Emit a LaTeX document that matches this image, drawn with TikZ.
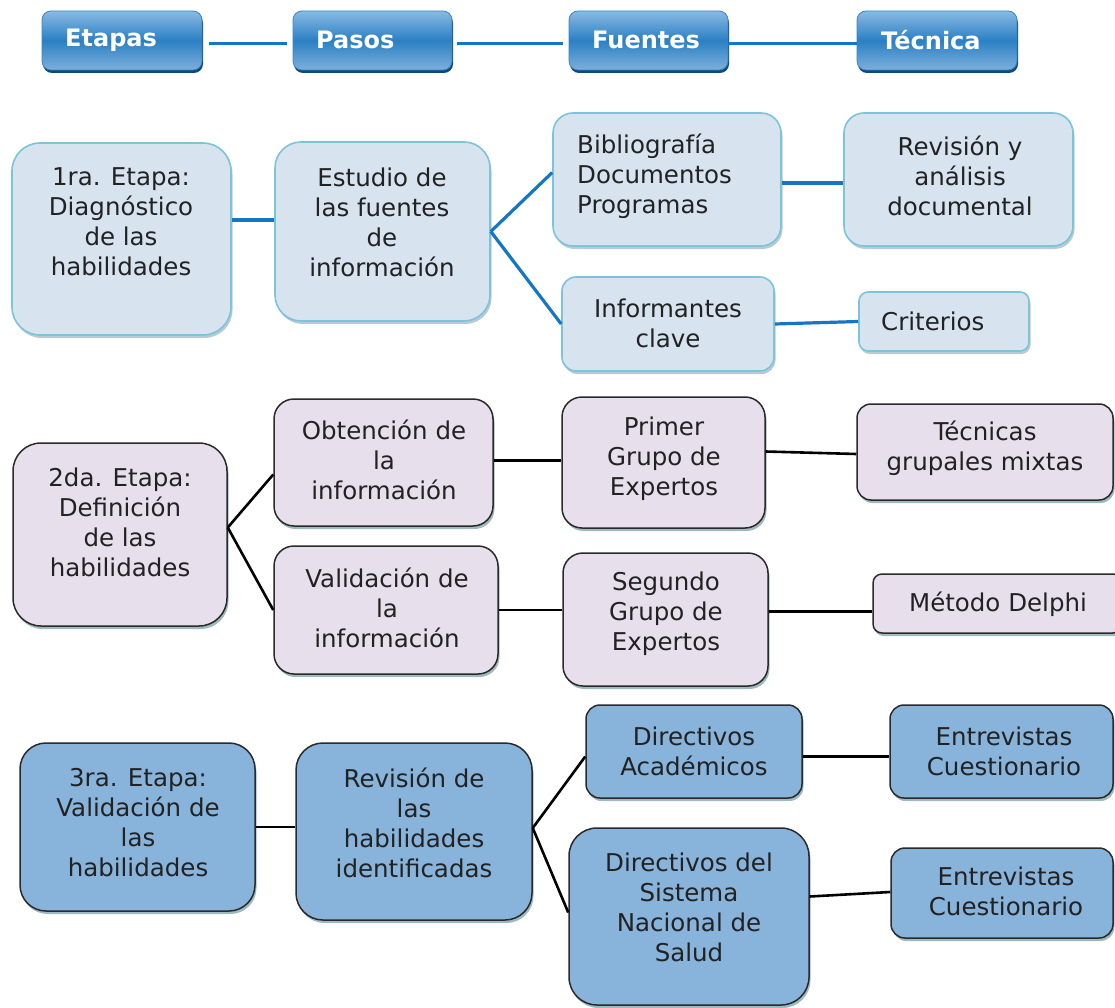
\documentclass[tikz,border=0pt]{standalone}
\usepackage{fontspec}
\setmainfont{DejaVu Sans}
\usetikzlibrary{shadows,calc}
\definecolor{hdrT}{HTML}{8ABAE3}
\definecolor{hdrM}{HTML}{2A80C4}
\definecolor{hdrBot}{HTML}{7EAFDC}
\definecolor{hdrS}{HTML}{0C4A78}
\definecolor{hdrB}{HTML}{3A86C4}
\definecolor{fillA}{HTML}{D7E4F0}
\definecolor{bordA}{HTML}{7CC4DA}
\definecolor{shA}{HTML}{8FA6B4}
\definecolor{fillB}{HTML}{E7E0EC}
\definecolor{fillC}{HTML}{88B3DA}
\definecolor{bordB}{HTML}{2A2A2A}
\definecolor{shB}{HTML}{5F8D93}
\definecolor{lineA}{HTML}{1576C6}
\definecolor{txtc}{HTML}{222222}
\begin{document}
\begin{tikzpicture}[x=1pt,y=-1pt,
  font=\fontsize{24.5}{30}\selectfont,
  hdr/.style={rounded corners=9pt, draw=hdrB, line width=0.8pt, top color=hdrT, bottom color=hdrBot, middle color=hdrM,
    drop shadow={shadow xshift=1pt, shadow yshift=-3pt, fill=hdrS, opacity=1}, inner sep=0pt},
  hdrtxt/.style={text=white, font=\fontsize{24}{30}\selectfont\bfseries, anchor=west, inner sep=0pt},
  bA/.style={draw=bordA, fill=fillA, line width=1.6pt, inner sep=0pt,
    drop shadow={shadow xshift=1.5pt, shadow yshift=-3pt, fill=shA, opacity=0.6}},
  bB/.style={draw=bordB, fill=fillB, line width=1.5pt, inner sep=0pt,
    drop shadow={shadow xshift=1.5pt, shadow yshift=-3pt, fill=shB, opacity=0.6}},
  bC/.style={draw=bordB, fill=fillC, line width=1.5pt, inner sep=0pt,
    drop shadow={shadow xshift=1.5pt, shadow yshift=-3pt, fill=shB, opacity=0.6}},
  txt/.style={align=center, text=txtc, inner sep=0pt},
  txtl/.style={align=left, text=txtc, inner sep=0pt, anchor=west},
  cA/.style={draw=lineA, line width=3.2pt},
  cB/.style={draw=black, line width=2.6pt}
]
\useasboundingbox[fill=white] (0,0) rectangle (1115,1008);

% ---------- header ----------
\node[hdr, minimum width=160, minimum height=59] (h1) at (122,40.5) {};
\node[hdr, minimum width=159, minimum height=59] (h2) at (372.5,40.5) {};
\node[hdr, minimum width=159, minimum height=59] (h3) at (648.5,40.5) {};
\node[hdr, minimum width=160, minimum height=59] (h4) at (937,40.5) {};
\node[hdrtxt] (h1t) at (65,40) {Etapas};
\node[hdrtxt] (h2t) at (316,40) {Pasos};
\node[hdrtxt] (h3t) at (592,40) {Fuentes};
\node[hdrtxt] (h4t) at (881,40) {Técnica};
\draw[cA, line width=3pt, shorten <=7pt, shorten >=6pt] ($(h1.east)+(0,3.5)$) -- ($(h2.west)+(0,3.5)$);
\draw[cA, line width=3pt, shorten <=5pt, shorten >=6pt] ($(h2.east)+(0,3.5)$) -- ($(h3.west)+(0,3.5)$);
\draw[cA, line width=3pt] ($(h3.east)+(0,3.5)$) -- ($(h4.west)+(0,3.5)$);

% ---------- stage 1 ----------
\node[bA, rounded corners=28pt, minimum width=219, minimum height=192] (e1) at (121.5,239) {};
\node[bA, rounded corners=26pt, minimum width=215, minimum height=179] (s1) at (382.5,231.5) {};
\node[bA, rounded corners=20pt, minimum width=228, minimum height=133] (f1a) at (667,179.5) {};
\node[bA, rounded corners=20pt, minimum width=229, minimum height=133] (t1a) at (958.5,179.5) {};
\node[bA, rounded corners=14pt, minimum width=212, minimum height=94] (f1b) at (668,324) {};
\node[bA, rounded corners=9pt, minimum width=170, minimum height=59] (t1b) at (944,321.5) {};

\node[txt] (e1t) at (121,222) {1ra. Etapa:\\Diagnóstico\\de las\\habilidades};
\node[txt] (s1t) at (382,222) {Estudio de\\las fuentes\\de\\información};
\node[txtl] (f1at) at (577,176) {Bibliografía\\Documentos\\Programas};
\node[txt] (t1at) at (960,176) {Revisión y\\análisis\\documental};
\node[txt] (f1bt) at (668,323) {Informantes\\clave};
\node[txtl] (t1bt) at (881,321) {Criterios};

\coordinate (c1) at ($(e1.east)+(0,-19)$);
\coordinate (c2) at ($(f1a.east)+(0,3.5)$);
\draw[cA] (c1) -- (c1 -| s1.west);
\draw[cA] (s1.east) -- ($(f1a.west)+(0,-7)$);
\draw[cA] (s1.east) -- (f1b.west);
\draw[cA] (c2) -- (c2 -| t1a.west);
\draw[cA] (f1b.east) -- (t1b.west);

% ---------- stage 2 ----------
\node[bB, rounded corners=28pt, minimum width=214, minimum height=183] (e2) at (120,534.5) {};
\node[bB, rounded corners=20pt, minimum width=219, minimum height=127] (s2a) at (383.5,462.5) {};
\node[bB, rounded corners=20pt, minimum width=224, minimum height=128] (s2b) at (386,610) {};
\node[bB, rounded corners=20pt, minimum width=203, minimum height=131] (f2a) at (663.5,462.5) {};
\node[bB, rounded corners=20pt, minimum width=205, minimum height=133] (f2b) at (665.5,619.5) {};
\node[bB, rounded corners=14pt, minimum width=256, minimum height=96] (t2a) at (985,452) {};
\node[bB, rounded corners=9pt, minimum width=249, minimum height=59] (t2b) at (997.5,603.5) {};

\node[txt] (e2t) at (120,522) {2da. Etapa:\\Definición\\de las\\habilidades};
\node[txt] (s2at) at (384,460) {Obtención de\\la\\información};
\node[txt] (s2bt) at (387,608) {Validación de\\la\\información};
\node[txt] (f2at) at (664,459) {Primer\\Grupo de\\Expertos};
\node[txt] (f2bt) at (666,614) {Segundo\\Grupo de\\Expertos};
\node[txt] (t2at) at (985,448) {Técnicas\\grupales mixtas};
\node[txt] (t2bt) at (998,604) {Método Delphi};

\coordinate (c3) at ($(e2.east)+(0,-7)$);
\coordinate (c4) at ($(s2a.east)+(0,-2)$);
\coordinate (c5) at ($(f2b.east)+(0,-8)$);
\draw[cB] (c3) -- ($(s2a.west)+(0,12)$);
\draw[cB] (c3) -- (s2b.west);
\draw[cB] (c4) -- (c4 -| f2a.west);
\draw[cB] (s2b.east) -- (s2b.east -| f2b.west);
\draw[cB] ($(f2a.east)+(0,-11)$) -- ($(t2a.west)+(0,2)$);
\draw[cB] (c5) -- (c5 -| t2b.west);

% ---------- stage 3 ----------
\node[bC, rounded corners=26pt, minimum width=235, minimum height=168] (e3) at (137.5,827) {};
\node[bC, rounded corners=27pt, minimum width=236, minimum height=177] (s3) at (414,831.5) {};
\node[bC, rounded corners=14pt, minimum width=216, minimum height=93] (f3a) at (694,751.5) {};
\node[bC, rounded corners=28pt, minimum width=240, minimum height=177] (f3b) at (689,916.5) {};
\node[bC, rounded corners=14pt, minimum width=223, minimum height=93] (t3a) at (1001.5,751.5) {};
\node[bC, rounded corners=14pt, minimum width=222, minimum height=90] (t3b) at (1002,893) {};

\node[txt] (e3t) at (138,823) {3ra. Etapa:\\Validación de\\las\\habilidades};
\node[txt] (s3t) at (414,823) {Revisión de\\las\\habilidades\\identificadas};
\node[txt] (f3at) at (694,751) {Directivos\\Académicos};
\node[txt] (f3bt) at (689,907) {Directivos del\\Sistema\\Nacional de\\Salud};
\node[txt] (t3at) at (1004,751) {Entrevistas\\Cuestionario};
\node[txt] (t3bt) at (1006,891) {Entrevistas\\Cuestionario};

\coordinate (c6) at ($(s3.east)+(0,-3.5)$);
\coordinate (c7) at ($(f3a.east)+(0,5)$);
\draw[cB] (e3.east) -- (e3.east -| s3.west);
\draw[cB] (c6) -- ($(f3a.west)+(0,5)$);
\draw[cB] (c6) -- ($(f3b.west)+(0,-4)$);
\draw[cB] (c7) -- (c7 -| t3a.west);
\draw[cB] ($(f3b.east)+(0,-20)$) -- ($(t3b.west)+(0,-1)$);
\end{tikzpicture}
\end{document}
